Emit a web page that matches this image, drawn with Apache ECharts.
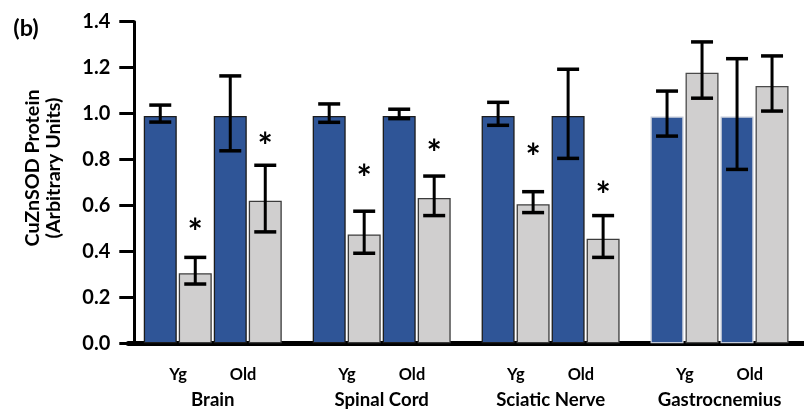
<!DOCTYPE html>
<html>
<head>
<meta charset="utf-8">
<script src="https://cdn.jsdelivr.net/npm/echarts@6/dist/echarts.min.js"></script>
<style>
  html, body { margin: 0; padding: 0; background: #fff; }
  #chart { width: 804px; height: 415px; }
</style>
</head>
<body>
<div id="chart"></div>
<script>
// ---- data ----
const categories = ['Brain', 'Spinal Cord', 'Sciatic Nerve', 'Gastrocnemius'];
const ageLabels = ['Yg', 'Old'];

const ygBlue      = [0.99, 0.99, 0.99, 0.987];
const ygBlueLow   = [0.963, 0.962, 0.949, 0.902];
const ygBlueHigh  = [1.037, 1.042, 1.049, 1.098];

const ygGray      = [0.305, 0.474, 0.605, 1.178];
const ygGrayLow   = [0.258, 0.392, 0.569, 1.067];
const ygGrayHigh  = [0.374, 0.575, 0.660, 1.312];

const oldBlue     = [0.99, 0.99, 0.99, 0.987];
const oldBlueLow  = [0.838, 0.978, 0.805, 0.757];
const oldBlueHigh = [1.164, 1.019, 1.193, 1.239];

const oldGray     = [0.621, 0.633, 0.455, 1.12];
const oldGrayLow  = [0.485, 0.556, 0.374, 1.011];
const oldGrayHigh = [0.775, 0.728, 0.556, 1.251];

// asterisk heights (significance marks), null = none
const ygGrayStar  = [0.515, 0.750, 0.842, null];
const oldGrayStar = [0.889, 0.859, 0.676, null];

// ---- styling ----
const FONT = 'Lato';
const BLUE = '#2f5597';
const GRAY = '#d0cfcf';
const BAR_W = 33, BAR_GAP = 2;
const offsets = [0, 1, 2, 3].map(k => (k - 1.5) * (BAR_W + BAR_GAP));

// fixed font sizes (Lato bold, sized to the reference text widths)
const SZ_TITLE = 19.7;
const SZ_TICK = 20;
const SZ_CAT = 18.6;
const SZ_AGE = 16.4;
const SZ_B = 23.4;
const SZ_STAR = 36;

const chart = echarts.init(document.getElementById('chart'), null, { renderer: 'canvas' });

function barSeries(name, values, color, border, lastBorder) {
  return {
    type: 'bar',
    name: name,
    barWidth: BAR_W,
    barGap: (BAR_GAP / BAR_W * 100) + '%',
    data: values.map((v, i) => i === 3 ? { value: v, itemStyle: { borderColor: lastBorder } } : v),
    itemStyle: { color: color, borderColor: border, borderWidth: 1.3 },
    z: 2,
    silent: true
  };
}

function errSeries(low, high, off) {
  return {
    type: 'custom',
    z: 5,
    silent: true,
    encode: { x: 0, y: [1, 2] },
    data: categories.map((_, i) => [i, low[i], high[i]]),
    renderItem: function (params, api) {
      const lo = api.coord([api.value(0), api.value(1)]);
      const hi = api.coord([api.value(0), api.value(2)]);
      const x = lo[0] + off;
      const cw = 11;
      return {
        type: 'group',
        children: [
          { type: 'line', shape: { x1: x, y1: hi[1], x2: x, y2: lo[1] }, style: { stroke: '#000', lineWidth: 3 } },
          { type: 'line', shape: { x1: x - cw, y1: hi[1], x2: x + cw, y2: hi[1] }, style: { stroke: '#000', lineWidth: 3.5 } },
          { type: 'line', shape: { x1: x - cw, y1: lo[1], x2: x + cw, y2: lo[1] }, style: { stroke: '#000', lineWidth: 3.5 } }
        ]
      };
    }
  };
}

function starSeries(stars, off) {
  return {
    type: 'custom',
    z: 6,
    silent: true,
    encode: { x: 0, y: 1 },
    data: stars.map((v, i) => [i, v]).filter(d => d[1] != null),
    renderItem: function (params, api) {
      const p = api.coord([api.value(0), api.value(1)]);
      return {
        type: 'text',
        x: p[0] + off,
        y: p[1] + SZ_STAR * 0.24,
        style: {
          text: '*',
          fill: '#000',
          fontFamily: FONT,
          fontWeight: 'bold',
          fontSize: SZ_STAR,
          align: 'center',
          verticalAlign: 'middle'
        }
      };
    }
  };
}

function textEl(text, x, y, size, rot) {
  return {
    type: 'text', x: x, y: y, rotation: rot || 0, z: 10,
    style: {
      text: text, fill: '#000', fontFamily: FONT, fontWeight: 'bold', fontSize: size,
      align: 'center', verticalAlign: 'middle'
    }
  };
}

const option = {
  animation: false,
  backgroundColor: '#fff',
  grid: { left: 128.3, top: 21.7, width: 698.8, height: 321.6, containLabel: false },
  xAxis: {
    type: 'category',
    data: categories,
    boundaryGap: true,
    axisLine: { show: true, lineStyle: { color: '#000', width: 5 } },
    axisTick: { show: false },
    axisLabel: {
      interval: 0,
      margin: 18,
      formatter: function (v) {
        return '{a|' + ageLabels[0] + '}{s| }{a|' + ageLabels[1] + '}\n{b|' + v + '}';
      },
      rich: {
        a: { fontFamily: FONT, fontWeight: 'bold', fontSize: SZ_AGE, color: '#000', lineHeight: 26 },
        s: { width: 43, fontSize: SZ_AGE, lineHeight: 26 },
        b: { fontFamily: FONT, fontWeight: 'bold', fontSize: SZ_CAT, color: '#000', lineHeight: 26 }
      }
    },
    splitLine: { show: false }
  },
  yAxis: {
    type: 'value',
    min: 0,
    max: 1.4,
    interval: 0.2,
    offset: -6,
    axisLine: { show: true, lineStyle: { color: '#000', width: 3 } },
    axisTick: { show: true, length: 15, inside: false, lineStyle: { color: '#000', width: 3 } },
    axisLabel: {
      margin: 24,
      color: '#000',
      fontFamily: FONT,
      fontWeight: 'bold',
      fontSize: SZ_TICK,
      formatter: v => v.toFixed(1)
    },
    splitLine: { show: false }
  },
  graphic: [
    textEl('(b)', 26, 28, SZ_B, 0),
    textEl('CuZnSOD Protein', 33, 168, SZ_TITLE, Math.PI / 2),
    textEl('(Arbitrary Units)', 54, 168, SZ_TITLE, Math.PI / 2)
  ],
  series: [
    barSeries('Yg WT', ygBlue, BLUE, '#1c1c1c', '#c3cad8'),
    barSeries('Yg KO', ygGray, GRAY, '#3c3c3c', '#4a4a4a'),
    barSeries('Old WT', oldBlue, BLUE, '#1c1c1c', '#c3cad8'),
    barSeries('Old KO', oldGray, GRAY, '#3c3c3c', '#4a4a4a'),
    errSeries(ygBlueLow, ygBlueHigh, offsets[0]),
    errSeries(ygGrayLow, ygGrayHigh, offsets[1]),
    errSeries(oldBlueLow, oldBlueHigh, offsets[2]),
    errSeries(oldGrayLow, oldGrayHigh, offsets[3]),
    starSeries(ygGrayStar, offsets[1]),
    starSeries(oldGrayStar, offsets[3])
  ]
};

chart.setOption(option);
</script>
</body>
</html>
